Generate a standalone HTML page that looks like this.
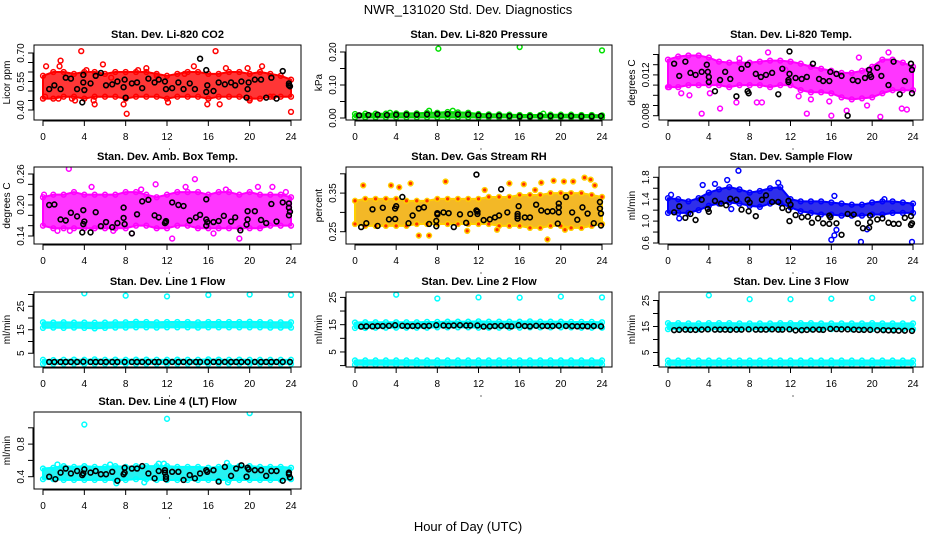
<!DOCTYPE html>
<html><head><meta charset="utf-8">
<style>
html,body{margin:0;padding:0;background:#fff;}
svg{display:block;font-family:"Liberation Sans",Arial,sans-serif;}
</style></head>
<body>
<svg id="chart" width="936" height="540" viewBox="0 0 936 540" xmlns="http://www.w3.org/2000/svg">
<text x="468" y="14" text-anchor="middle" font-size="13">NWR_131020  Std. Dev. Diagnostics</text>
<text x="468" y="531" text-anchor="middle" font-size="13">Hour of Day (UTC)</text>
</svg>
<script>
const hours=[0,1,2,3,4,5,6,7,8,9,10,11,12,13,14,15,16,17,18,19,20,21,22,23,24];
const xTicks=[0,4,8,12,16,20,24];

const co2Lo=[.46,.46,.47,.47,.46,.47,.47,.47,.46,.47,.47,.47,.46,.47,.47,.47,.46,.47,.47,.47,.46,.46,.47,.47,.47];
const co2Hi=[.58,.60,.60,.59,.60,.60,.59,.60,.60,.60,.60,.59,.58,.59,.60,.60,.59,.59,.60,.60,.59,.60,.59,.58,.56];
const co2Extra=[[0.3,.63],[1.7,.66],[1.6,.63],[3.7,.71],[4.2,.61],[5.8,.64],[10,.62],[14.6,.63],[16.7,.71],[17.1,.43],[15.9,.43],[19.8,.62],[21.2,.63],[24,.39],[8.1,.38],[7.8,.43],[5,.43],[4.9,.45],[1.5,.46],[0.2,.47],[12.1,.44],[17.7,.62],[22.3,.47],[9.2,.61],[11,.58],[6.6,.57],[2.8,.46],[20,.45],[13.7,.59],[3.1,.45]];
const co2Black=[[0.6,.51],[1.1,.53],[1.7,.51],[2.2,.57],[2.7,.565],[3.3,.51],[3.8,.44],[3.9,.545],[4,.505],[3.9,.585],[4.6,.54],[5.1,.58],[5.6,.595],[6.1,.53],[6.7,.535],[7.2,.55],[7.8,.52],[7.9,.56],[8,.465],[8.6,.54],[9.1,.545],[9.6,.515],[10.2,.565],[10.8,.545],[11.2,.56],[11.8,.55],[11.9,.51],[12.5,.515],[13.1,.545],[13.6,.51],[14.2,.54],[14.7,.51],[15.2,.67],[15.8,.61],[15.8,.495],[15.9,.53],[16.5,.5],[17,.545],[17.6,.535],[18.2,.545],[18.6,.53],[19.2,.55],[19.7,.465],[19.8,.51],[19.9,.545],[20.5,.56],[21.1,.56],[21.6,.465],[22.1,.57],[22.6,.46],[23.2,.605],[23.8,.54],[23.9,.525],[23.8,.53]];

const presLo=[.002,.002,.002,.002,.002,.002,.002,.002,.002,.002,.002,.002,.002,.002,.002,.002,.002,.002,.002,.002,.002,.002,.002,.002,.002];
const presHi=[.012,.013,.013,.013,.014,.014,.014,.016,.016,.018,.017,.016,.012,.011,.011,.010,.009,.009,.009,.010,.010,.010,.009,.009,.008];
const presExtra=[[8.1,.21],[16,.215],[24,.205],[7.2,.022],[9.5,.022],[3.4,.016],[18.3,.013]];
const presBlack=[[0.4,.008],[1.3,.009],[2.2,.01],[3.1,.009],[4,.01],[5,.01],[6,.01],[7,.011],[8,.012],[9,.012],[10,.011],[11,.011],[12,.008],[13,.007],[14,.007],[15,.006],[16,.005],[17,.005],[18,.006],[19,.006],[20,.006],[21,.006],[22,.005],[23,.005],[23.9,.006]];

const tempLo=[.0108,.0108,.011,.011,.011,.011,.0108,.011,.011,.011,.0108,.011,.011,.0105,.0103,.0103,.0102,.0098,.0096,.0097,.0098,.0102,.0105,.0105,.0105];
const tempHi=[.0135,.0138,.0139,.0139,.0137,.0133,.0132,.0132,.0132,.0133,.0134,.0134,.0133,.0131,.0128,.0126,.0124,.0122,.0122,.0124,.0128,.0135,.0135,.0132,.0128];
const tempExtra=[[3.3,.0082],[5.1,.0087],[6.7,.0093],[8.7,.0093],[9.2,.0093],[13.6,.0082],[16,.0080],[17.5,.0085],[20.8,.0079],[21.6,.0142],[22.9,.0087],[23.4,.0086],[2.1,.0100],[1.3,.0102],[4.1,.0102],[12.8,.0099],[9.8,.0142],[0.1,.0108],[7,.0136],[18.7,.0137],[15.8,.0094],[19.5,.009],[14,.0096],[11.5,.0125]];
const tempBlack=[[0.6,.0131],[1.1,.0119],[1.7,.0133],[2.2,.0122],[2.7,.0120],[3.3,.0123],[3.8,.0130],[3.9,.0123],[4,.0118],[4,.0113],[4.6,.0104],[5.1,.0115],[5.6,.0123],[6.1,.0116],[6.7,.0099],[7.2,.0126],[7.8,.0130],[7.8,.0104],[7.9,.0102],[8.6,.0121],[9.1,.0118],[9.6,.0120],[10.2,.0122],[10.8,.0101],[11.2,.0126],[11.9,.0143],[11.9,.0121],[11.8,.0115],[11.8,.0113],[12.5,.0117],[13.1,.0116],[13.6,.0118],[14.2,.0131],[14.8,.0116],[15.2,.0114],[15.8,.0114],[15.9,.0123],[16.5,.0121],[17,.0119],[17.6,.0080],[18.1,.0115],[18.6,.0114],[19.3,.0117],[19.7,.0125],[19.8,.0120],[19.9,.0118],[20.5,.0127],[20.9,.0119],[21.6,.0110],[22.1,.0133],[22.7,.0101],[23.2,.0114],[23.8,.0131],[23.9,.0102],[23.9,.0125]];

const ambLo=[.16,.155,.155,.155,.155,.155,.155,.155,.155,.16,.16,.155,.155,.16,.16,.155,.155,.155,.155,.155,.155,.155,.16,.16,.16];
const ambHi=[.215,.22,.22,.225,.22,.22,.22,.22,.225,.225,.22,.215,.22,.225,.225,.225,.22,.225,.225,.22,.225,.22,.22,.22,.215];
const ambExtra=[[2.5,.27],[14.7,.25],[17.7,.23],[20.8,.235],[22.2,.235],[12.5,.135],[19,.135],[2.6,.15],[16.5,.145],[8.6,.145],[23.5,.225],[10.9,.24],[6.8,.15],[1.4,.15],[13.8,.235],[9.5,.23],[0.1,.22],[4.7,.235]];
const ambBlack=[[0.6,.20],[1.1,.201],[1.7,.172],[2.2,.17],[2.7,.185],[3.3,.178],[3.8,.147],[3.9,.19],[4,.168],[3.9,.163],[4.6,.147],[5.1,.186],[5.6,.159],[6.1,.167],[6.7,.157],[7.2,.165],[7.8,.195],[7.8,.175],[7.9,.163],[8.6,.145],[9.1,.182],[9.6,.207],[10.2,.21],[10.8,.18],[11.2,.176],[11.9,.169],[11.8,.165],[11.9,.167],[12.5,.205],[13.1,.2],[13.6,.198],[14.2,.17],[14.8,.176],[15.2,.181],[15.8,.211],[15.8,.172],[15.9,.167],[15.8,.16],[16.5,.167],[17,.169],[17.5,.179],[18.2,.168],[18.6,.176],[19.1,.151],[19.7,.162],[19.8,.172],[19.8,.188],[20.5,.188],[21.1,.171],[21.6,.165],[22.1,.202],[22.6,.168],[23.2,.205],[23.8,.203],[23.8,.195],[23.9,.187],[23.8,.18]];

const rhLo=[.27,.265,.265,.265,.265,.265,.27,.27,.27,.27,.27,.27,.27,.27,.265,.265,.265,.26,.26,.265,.265,.26,.26,.265,.27];
const rhHi=[.33,.335,.335,.335,.335,.33,.33,.33,.335,.335,.335,.335,.335,.34,.34,.34,.345,.345,.345,.35,.35,.35,.35,.345,.34];
const rhExtra=[[0.8,.37],[3.5,.37],[4.3,.365],[5.4,.375],[8.8,.38],[15,.375],[16.4,.373],[18.1,.377],[19.3,.382],[20.3,.38],[21.2,.38],[22.3,.39],[22.9,.385],[23.3,.37],[18.7,.23],[6.2,.24],[7.2,.24],[20.4,.255],[10.9,.252],[13.8,.255],[12.6,.358],[17.5,.358]];
const rhBlack=[[0.6,.262],[1.1,.272],[1.7,.308],[2.2,.265],[2.7,.312],[3.3,.282],[3.9,.283],[3.9,.31],[4,.316],[4.6,.34],[5.2,.272],[5.6,.292],[6.2,.31],[6.7,.313],[7.2,.27],[7.9,.278],[7.9,.264],[8,.298],[8,.295],[8.6,.3],[9.1,.298],[9.6,.262],[10.2,.295],[10.8,.273],[11.2,.296],[11.8,.305],[11.9,.302],[11.9,.296],[11.8,.398],[12.5,.28],[13.1,.282],[13.6,.287],[14,.292],[14.2,.36],[14.8,.3],[15.8,.29],[15.8,.296],[15.9,.316],[15.8,.284],[16.5,.287],[17,.287],[17.6,.32],[18.1,.305],[18.7,.302],[19.2,.303],[19.7,.271],[19.8,.313],[19.8,.323],[19.8,.3],[20.5,.34],[21.1,.3],[21.6,.281],[22.1,.313],[22.6,.297],[23.2,.272],[23.8,.327],[23.8,.31],[23.9,.297],[23.9,.266]];

const flowLo=[1.15,1.15,1.15,1.20,1.28,1.32,1.34,1.32,1.28,1.26,1.32,1.33,1.25,1.18,1.15,1.12,1.12,1.10,1.10,1.10,1.12,1.12,1.15,1.15,1.15];
const flowHi=[1.42,1.40,1.36,1.42,1.52,1.58,1.62,1.58,1.52,1.55,1.60,1.62,1.40,1.36,1.36,1.36,1.34,1.32,1.30,1.30,1.34,1.36,1.36,1.34,1.32];
const flowExtra=[[6.9,1.92],[6.2,1.22],[16,0.66],[16.3,0.74],[16.5,0.84],[16.3,1.46],[18.9,0.62],[23.9,0.62],[5.8,1.75],[4.6,1.68],[10.8,1.70],[3.4,1.66],[0.3,1.48],[19.5,0.85],[21.2,1.4],[1.1,1.05]];
const flowBlack=[[0.6,1.16],[1.1,1.27],[1.7,1.06],[2.2,1.13],[2.7,1.02],[3.3,1.39],[3.9,1.22],[4,1.17],[4.6,1.37],[5.2,1.32],[5.7,1.29],[6.1,1.41],[6.7,1.39],[7.2,1.21],[7.8,1.39],[7.9,1.18],[8,1.34],[8.6,1.09],[9.2,1.39],[9.6,1.47],[10.2,1.35],[10.8,1.35],[11.2,1.24],[11.8,1.37],[11.8,1.2],[11.9,1.0],[12,1.3],[12.5,1.11],[13.1,1.07],[13.7,1.08],[14.1,0.97],[14.7,1.05],[15.2,0.96],[15.8,0.95],[15.9,1.07],[15.8,1.1],[16.5,0.96],[17,0.75],[17.6,1.13],[18.2,1.12],[18.6,0.96],[19.1,0.87],[19.7,0.88],[19.8,0.98],[19.8,1.1],[20.5,1.03],[21,1.05],[21.6,0.97],[22.1,0.95],[22.6,0.95],[23.2,1.06],[23.8,1.09],[23.8,0.93],[23.9,0.96]];

const line1Lo=[15.8,15.9,15.8,15.9,15.8,15.6,15.8,15.9,15.9,16,16,15.9,16,16,16,15.9,16,16,16,16,16,16,15.9,15.9,15.9];
const line1Hi=[18.2,18.1,18.2,18.1,18.1,18,18.1,18.2,18.2,18.4,18.3,18.2,18.3,18.3,18.3,18.2,18.3,18.3,18.3,18.3,18.4,18.3,18.2,18.2,18.2];
const line1Lo2=[0.5,0.5,0.5,0.5,0.5,0.5,0.5,0.5,0.5,0.5,0.5,0.5,0.5,0.5,0.5,0.5,0.5,0.5,0.5,0.5,0.5,0.5,0.5,0.5,0.5];
const line1Hi2=[2.2,2.1,2.2,2.3,2.2,2.4,2.2,2.3,2.2,2.3,2.3,2.2,2.2,2.3,2.2,2.2,2.4,2.3,2.2,2.3,2.2,2.2,2.2,2.2,2.2];
const line1Extra=[[4,30.5],[8,29.5],[12,29.2],[16,29.8],[20,30],[24,29.8]];
const line1Black=[[0.6,1.3],[1.1,1.3],[1.7,1.3],[2.2,1.3],[2.7,1.3],[3.3,1.3],[3.9,1.4],[4.6,1.3],[5.1,1.3],[5.6,1.3],[6.1,1.3],[6.7,1.3],[7.2,1.3],[7.9,1.3],[8.6,1.3],[9.1,1.3],[9.6,1.3],[10.2,1.3],[10.8,1.3],[11.2,1.3],[11.9,1.3],[12.5,1.3],[13.1,1.3],[13.6,1.3],[14.2,1.3],[14.8,1.3],[15.2,1.3],[15.9,1.3],[16.5,1.3],[17,1.3],[17.6,1.3],[18.2,1.3],[18.7,1.3],[19.2,1.3],[19.8,1.3],[20.5,1.3],[21.1,1.3],[21.6,1.3],[22.1,1.3],[22.6,1.3],[23.2,1.3],[23.9,1.3]];

const line2Lo=[13.8,13.8,13.9,13.9,13.9,13.9,13.9,13.9,14,14,14,14,13.9,13.9,13.9,13.9,13.9,14,14,14,14,14,13.9,13.9,13.9];
const line2Hi=[15.8,15.9,15.9,15.9,15.9,15.9,15.9,16,16,16.1,16.1,16.1,16.2,16.1,16.1,16.1,16.1,16.2,16.1,16.1,16.1,16,16,16,15.9];
const line2Lo2=[0.3,0.3,0.3,0.3,0.3,0.3,0.3,0.3,0.3,0.3,0.3,0.3,0.3,0.3,0.3,0.3,0.3,0.3,0.3,0.3,0.3,0.3,0.3,0.3,0.3];
const line2Hi2=[1.9,1.9,1.9,1.9,1.9,1.9,1.9,1.9,1.9,1.9,1.9,1.9,1.9,1.9,1.9,1.9,1.9,1.9,1.9,1.9,1.9,1.9,1.9,1.9,1.9];
const line2Extra=[[4,26],[8,24.6],[12,25],[16,24.9],[20,25.3],[24,25]];
const line2Black=[[0.6,14.3],[1.1,14.4],[1.7,14.4],[2.2,14.5],[2.7,14.5],[3.3,14.6],[3.9,14.8],[4.6,14.6],[5.1,14.5],[5.6,14.5],[6.1,14.6],[6.7,14.5],[7.2,14.6],[7.9,14.8],[8.6,14.7],[9.1,14.6],[9.6,14.7],[10.2,14.8],[10.8,14.7],[11.2,14.7],[11.9,14.7],[12.5,14.3],[13.1,14.4],[13.6,14.5],[14.2,14.6],[14.8,14.5],[15.2,14.4],[15.9,14.8],[16.5,14.5],[17,14.4],[17.6,14.6],[18.2,14.5],[18.7,14.5],[19.2,14.5],[19.8,14.6],[20.5,14.5],[21.1,14.5],[21.6,14.4],[22.1,14.5],[22.6,14.4],[23.2,14.5],[23.9,14.4]];

const line3Lo=[14,14,14,14,14,14,14,14,14,14,14,14,14,14,14,14,14,14,14,14,14,14,14,14,14];
const line3Hi=[16.3,16.3,16.2,16.2,16.3,16.3,16.3,16.2,16.2,16.2,16.2,16.3,16.3,16.3,16.3,16.2,16.2,16.2,16.2,16.2,16.3,16.2,16.2,16.2,16.2];
const line3Lo2=[0.3,0.3,0.3,0.3,0.3,0.3,0.3,0.3,0.3,0.3,0.3,0.3,0.3,0.3,0.3,0.3,0.3,0.3,0.3,0.3,0.3,0.3,0.3,0.3,0.3];
const line3Hi2=[1.9,1.9,1.9,1.9,1.9,1.9,1.9,1.9,1.9,1.9,1.9,1.9,1.9,1.9,1.9,1.9,1.9,1.9,1.9,1.9,1.9,1.9,1.9,1.9,1.9];
const line3Extra=[[4,27],[8,25.5],[12,25.5],[16,25.7],[20,26],[24,25.8]];
const line3Black=[[0.6,13.6],[1.1,13.7],[1.7,13.8],[2.2,13.7],[2.7,13.7],[3.3,13.8],[3.9,13.9],[4.6,13.8],[5.1,13.8],[5.6,13.8],[6.1,13.7],[6.7,13.8],[7.2,13.8],[7.9,13.9],[8.6,13.8],[9.1,13.8],[9.6,13.8],[10.2,13.9],[10.8,13.8],[11.2,13.8],[11.9,13.9],[12.5,13.5],[13.1,13.6],[13.6,13.7],[14.2,13.8],[14.8,13.8],[15.2,13.7],[15.9,14.1],[16.5,14],[17,13.9],[17.6,13.9],[18.2,13.8],[18.7,13.7],[19.2,13.7],[19.8,13.7],[20.5,13.6],[21.1,13.6],[21.6,13.5],[22.1,13.5],[22.6,13.4],[23.2,13.4],[23.9,13.3]];

const line4Lo=[.37,.37,.36,.36,.36,.36,.36,.36,.36,.37,.37,.36,.36,.36,.36,.36,.36,.36,.36,.36,.36,.36,.36,.36,.37];
const line4Hi=[.50,.51,.53,.52,.53,.52,.52,.53,.52,.53,.53,.53,.53,.52,.52,.52,.51,.52,.53,.53,.53,.52,.52,.52,.51];
const line4Extra=[[4,1.04],[12,1.11],[20,1.18],[7.1,0.32],[9.8,0.33],[17.9,0.33],[11.2,0.56],[11.7,0.56],[17.8,0.57],[6.5,0.55],[1.4,0.55]];
const line4Black=[[0.6,.40],[1.2,.37],[1.7,.45],[2.2,.5],[2.7,.44],[3.3,.47],[3.8,.42],[3.9,.44],[4,.49],[4.6,.45],[5.1,.47],[5.6,.43],[6.1,.43],[6.7,.46],[7.2,.35],[7.8,.43],[7.9,.45],[7.9,.51],[8.6,.5],[9.1,.5],[9.6,.53],[10.2,.44],[10.8,.38],[11.2,.47],[11.8,.48],[11.9,.40],[11.9,.37],[11.8,.45],[12.5,.46],[13.1,.46],[13.6,.36],[14.2,.42],[14.7,.38],[15.2,.44],[15.8,.48],[15.9,.46],[16.5,.48],[17,.34],[17.6,.52],[18.2,.41],[18.7,.50],[19.2,.54],[19.7,.40],[19.8,.51],[19.9,.49],[20.5,.48],[21.1,.48],[21.6,.41],[22.1,.47],[22.6,.47],[23.2,.35],[23.8,.45],[23.8,.43],[23.9,.39]];

const NS="http://www.w3.org/2000/svg";
const svg=document.getElementById('chart');
function mk(tag,attrs,parent){const e=document.createElementNS(NS,tag);for(const k in attrs)e.setAttribute(k,attrs[k]);(parent||svg).appendChild(e);return e;}

const cols=[[34,301],[346,612],[659,923]];
const rows=[[45,120],[167,244],[292,367],[412,489]];

const panels=[
 {name:'co2',title:'Stan. Dev. Li-820 CO2',yt:'Licor ppm',c:0,r:0,ym:[.40,110,.70,53],ticks:[.40,.45,.50,.55,.60,.65,.70],labels:[.40,.55,.70],dec:2,col:'#ff0000',band:'#ff2020',bands:[[co2Lo,co2Hi]],extra:co2Extra,black:co2Black},
 {name:'pressure',title:'Stan. Dev. Li-820 Pressure',yt:'kPa',c:1,r:0,ym:[0,118,.2,52],ticks:[0,.05,.1,.15,.2],labels:[0,.1,.2],dec:2,col:'#00e000',band:'#20d020',bands:[[presLo,presHi]],extra:presExtra,black:presBlack},
 {name:'temp',title:'Stan. Dev. Li-820 Temp.',yt:'degrees C',c:2,r:0,ym:[.008,115.7,.014,54.5],ticks:[.008,.009,.010,.011,.012,.013,.014],labels:[.008,.012],dec:3,col:'#ff00ff',band:'#ff20ff',bands:[[tempLo,tempHi]],extra:tempExtra,black:tempBlack},
 {name:'amb-box-temp',title:'Stan. Dev. Amb. Box Temp.',yt:'degrees C',c:0,r:1,ym:[.14,236,.26,174],ticks:[.14,.16,.18,.20,.22,.24,.26],labels:[.14,.20,.26],dec:2,col:'#ff00ff',band:'#ff20ff',bands:[[ambLo,ambHi]],extra:ambExtra,black:ambBlack},
 {name:'gas-rh',title:'Stan. Dev. Gas Stream RH',yt:'percent',c:1,r:1,ym:[.25,231.7,.40,173.8],ticks:[.25,.30,.35,.40],labels:[.25,.35],dec:2,col:'#ffd000',band:'#f2b010',bands:[[rhLo,rhHi]],extra:rhExtra,black:rhBlack,fill:'#ff3000'},
 {name:'sample-flow',title:'Stan. Dev. Sample Flow',yt:'ml/min',c:2,r:1,ym:[.6,243,1.8,177.3],ticks:[.6,.8,1.0,1.2,1.4,1.6,1.8],labels:[.6,1.0,1.4,1.8],dec:1,col:'#0000ff',band:'#1818e8',bands:[[flowLo,flowHi]],extra:flowExtra,black:flowBlack},
 {name:'line1-flow',title:'Stan. Dev. Line 1 Flow',yt:'ml/min',c:0,r:2,ym:[0,365,30,294.5],ticks:[5,10,15,20,25,30],labels:[5,15,25],dec:0,col:'#00ffff',band:'#10f0f0',bands:[[line1Lo,line1Hi],[line1Lo2,line1Hi2]],extra:line1Extra,black:line1Black},
 {name:'line2-flow',title:'Stan. Dev. Line 2 Flow',yt:'ml/min',c:1,r:2,ym:[0,365.6,25,297.4],ticks:[0,5,10,15,20,25],labels:[5,15,25],dec:0,col:'#00ffff',band:'#10f0f0',bands:[[line2Lo,line2Hi],[line2Lo2,line2Hi2]],extra:line2Extra,black:line2Black},
 {name:'line3-flow',title:'Stan. Dev. Line 3 Flow',yt:'ml/min',c:2,r:2,ym:[0,365.5,25,300.5],ticks:[0,5,10,15,20,25],labels:[5,15,25],dec:0,col:'#00ffff',band:'#10f0f0',bands:[[line3Lo,line3Hi],[line3Lo2,line3Hi2]],extra:line3Extra,black:line3Black},
 {name:'line4-flow',title:'Stan. Dev. Line 4 (LT) Flow',yt:'ml/min',c:0,r:3,ym:[.4,476.7,1.0,427.8],ticks:[.4,.6,.8,1.0],labels:[.4,.8],dec:1,col:'#00ffff',band:'#10f0f0',bands:[[line4Lo,line4Hi]],extra:line4Extra,black:line4Black}
];

panels.forEach(p=>{
  const [L,R]=cols[p.c],[T,B]=rows[p.r];
  const x0=L+9,x1=R-10;
  const X=h=>x0+(x1-x0)*h/24;
  const Y=v=>p.ym[1]+(v-p.ym[0])*(p.ym[3]-p.ym[1])/(p.ym[2]-p.ym[0]);
  const g=mk('g',{});
  
  
  const clipId='clip-'+p.name;
  const cp=mk('clipPath',{id:clipId},g);mk('rect',{x:L,y:T,width:R-L,height:B-T},cp);
  const plot=mk('g',{'clip-path':'url(#'+clipId+')'},g);
  p.bands.forEach(bd=>{
    const [lo,hi]=bd;
    let pts=hours.map((h,i)=>X(h)+','+Y(hi[i]));
    pts=pts.concat(hours.slice().reverse().map((h,j)=>{const i=hours.length-1-j;return X(h)+','+Y(lo[i]);}));
    const poly=mk('polygon',{points:pts.join(' '),fill:p.band,'fill-opacity':0.9,stroke:p.col,'stroke-width':2,'stroke-linejoin':'round'},plot);
    
    
    hours.forEach((h,i)=>{
      [hi[i],lo[i]].forEach(v=>{
        const c=mk('circle',{cx:X(h),cy:Y(v),r:2.4,fill:p.fill||'none',stroke:p.col,'stroke-width':1.5},plot);
        
        
      });
    });
  });
  p.extra.forEach(d=>{
    const c=mk('circle',{cx:X(d[0]),cy:Y(d[1]),r:2.4,fill:p.fill||'none',stroke:p.col,'stroke-width':1.5},plot);
    
    
  });
  p.black.forEach(d=>{
    const c=mk('circle',{cx:X(d[0]),cy:Y(d[1]),r:2.4,fill:'none',stroke:'#000','stroke-width':1.6},plot);
    
    
  });
  const box=mk('rect',{x:L,y:T,width:R-L,height:B-T,fill:'none',stroke:'#000','stroke-width':1},g);
  
  
  const t=mk('text',{x:(L+R)/2,y:T-7,'text-anchor':'middle','font-size':11,'font-weight':'bold'},g);
  t.textContent=p.title;
  
  
  mk('line',{x1:X(0),x2:X(24),y1:B+1,y2:B+1,stroke:'#000'},g);
  xTicks.forEach(h=>{
    mk('line',{x1:X(h),x2:X(h),y1:B,y2:B+6,stroke:'#000'},g);
    const tl=mk('text',{x:X(h),y:B+20,'text-anchor':'middle','font-size':10},g);
    tl.textContent=h;
    
    
  });
  mk('circle',{cx:(L+R)/2+2,cy:B+29,r:0.6,fill:'#000'},g);
  const ya=p.ticks[0],yb=p.ticks[p.ticks.length-1];
  mk('line',{x1:L-1,x2:L-1,y1:Y(ya),y2:Y(yb),stroke:'#000'},g);
  p.ticks.forEach(v=>{mk('line',{x1:L-6,x2:L,y1:Y(v),y2:Y(v),stroke:'#000'},g);});
  p.labels.forEach(v=>{
    const yy=Y(v),xx=L-10;
    const tl=mk('text',{x:xx,y:yy,'text-anchor':'middle','font-size':10,transform:'rotate(-90 '+xx+' '+yy+')'},g);
    tl.textContent=v.toFixed(p.dec);
    
    
  });
  const yx=L-24,yy=(T+B)/2;
  const yt=mk('text',{x:yx,y:yy,'text-anchor':'middle','font-size':10,transform:'rotate(-90 '+yx+' '+yy+')'},g);
  yt.textContent=p.yt;
  
  
});
</script>
</body></html>
